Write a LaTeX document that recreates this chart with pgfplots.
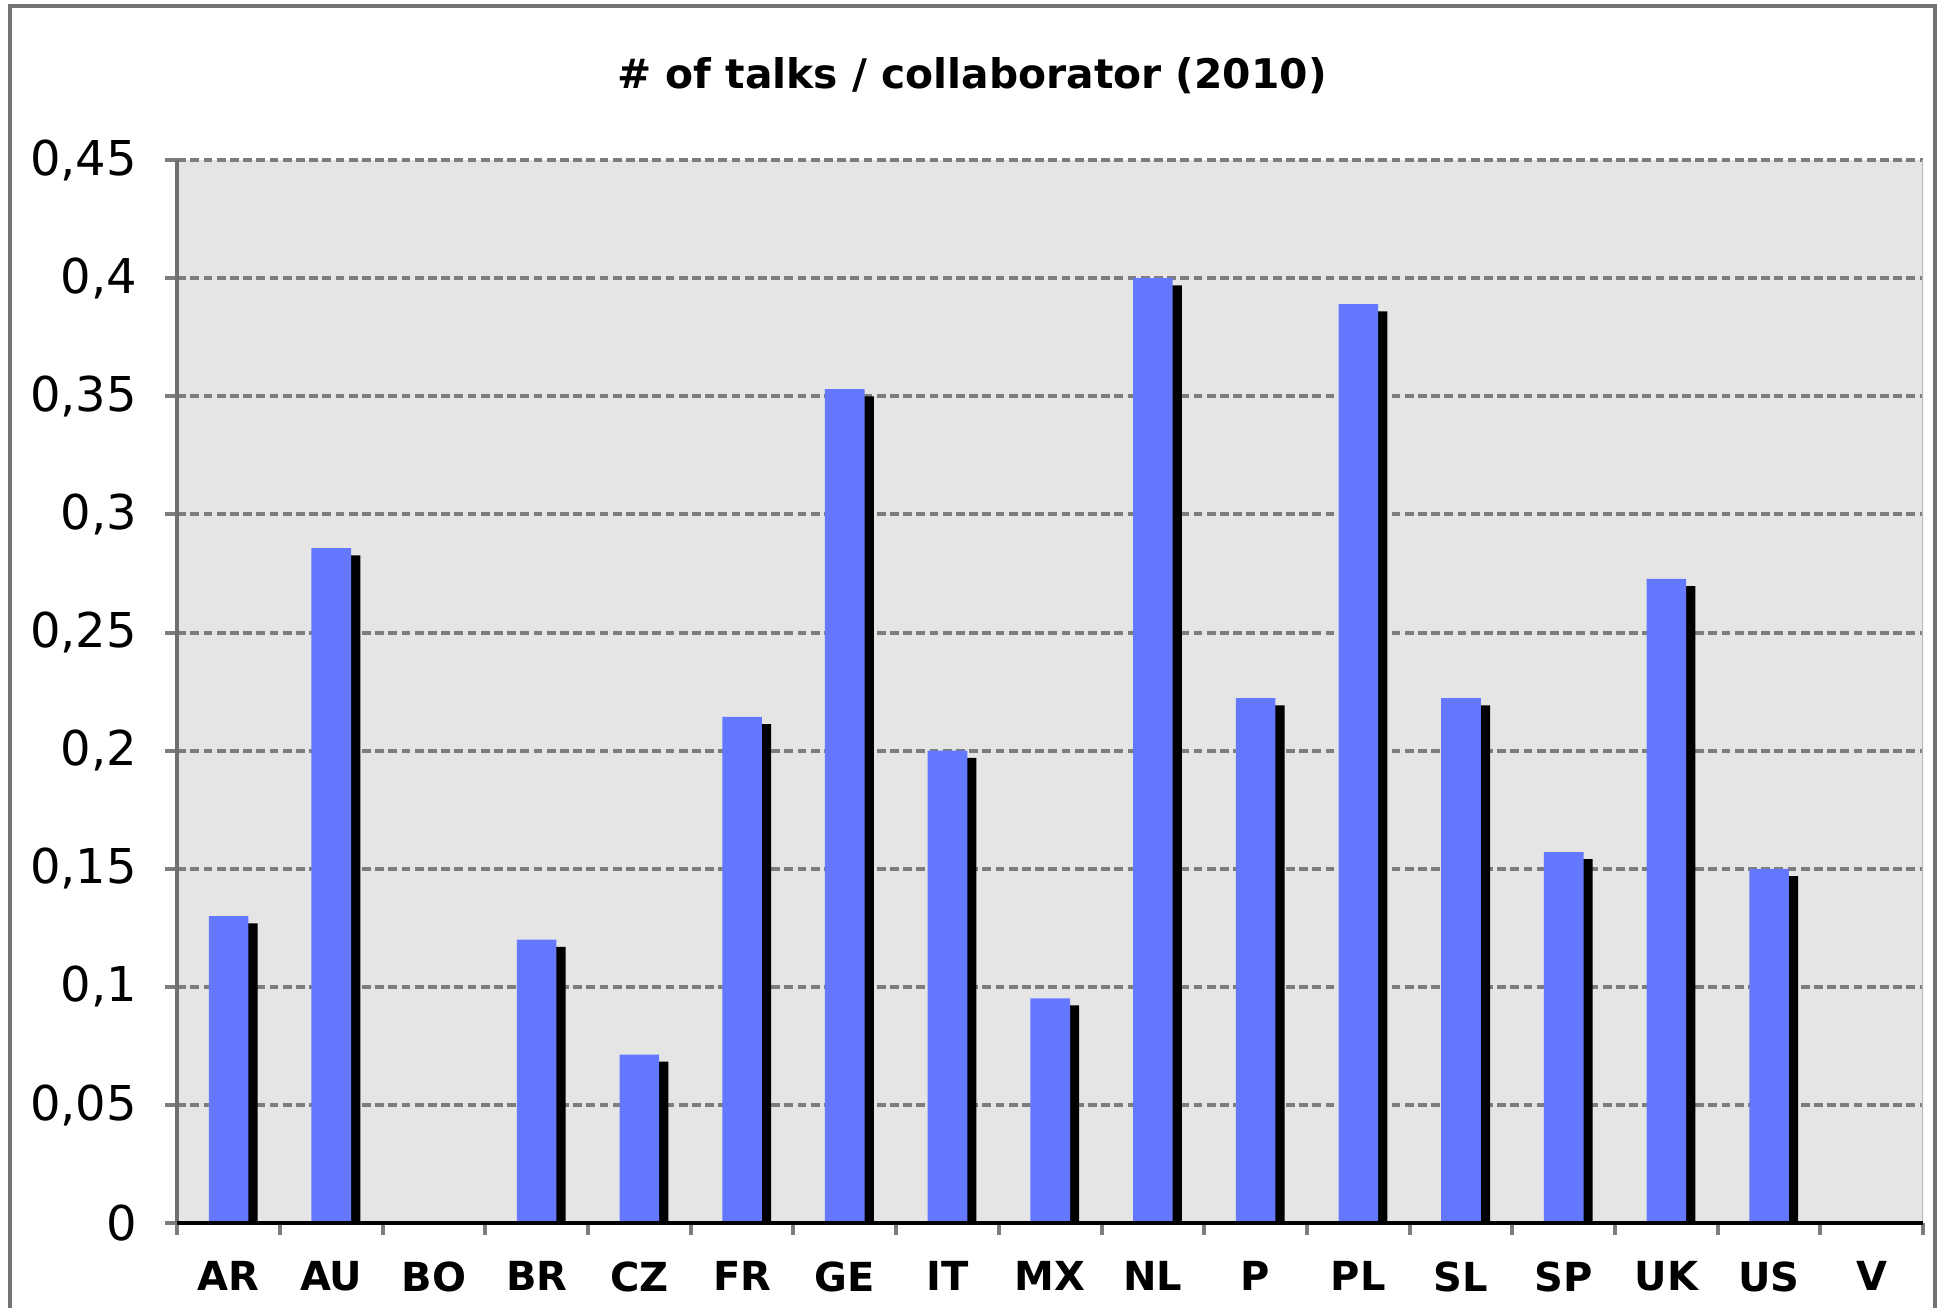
\documentclass[border=0pt]{standalone}
\usepackage{pgfplots}
\pgfplotsset{compat=1.18}
\usepackage{fontspec}
\setmainfont{DejaVu Sans}
\definecolor{barblue}{RGB}{99,120,255}
\definecolor{bg}{RGB}{229,229,229}
\definecolor{gridgray}{RGB}{125,125,125}
\begin{document}
\begin{tikzpicture}
\begin{axis}[
  at={(44.3pt,21.2pt)}, anchor=south west,
  scale only axis, width=436.5pt, height=265.8pt,
  xmin=0, xmax=17, ymin=0, ymax=0.45,
  axis background/.style={fill=bg},
  axis x line*=bottom, axis y line*=left,
  x axis line style={black, line width=0.9pt, -},
  y axis line style={gridgray!90!black, line width=1pt, -},
  xtick={0,...,17},
  x tick label as interval,
  xticklabels={AR,AU,BO,BR,CZ,FR,GE,IT,MX,NL,P,PL,SL,SP,UK,US,V},
  xticklabel style={font=\fontsize{10}{12}\selectfont\bfseries, yshift=-3pt},
  ytick={0,0.05,...,0.45},
  yticklabels={0,{0,05},{0,1},{0,15},{0,2},{0,25},{0,3},{0,35},{0,4},{0,45}},
  yticklabel style={font=\fontsize{12}{14}\selectfont, xshift=-3.5pt},
  tick align=outside,
  major tick length=3pt,
  tick style={gridgray, line width=1pt},
  ymajorgrids,
  grid style={gridgray, line width=1pt, dash pattern=on 2.2pt off 1.1pt},
  ybar, bar width=9.9pt,
  /pgf/number format/assume math mode=true,
  clip=true,
]
\addplot[fill=black, draw=none, bar shift=2.3pt, yshift=-1.8pt] coordinates {
(0.5,0.130) (1.5,0.2857) (2.5,0) (3.5,0.120) (4.5,0.0714) (5.5,0.2143)
(6.5,0.353) (7.5,0.200) (8.5,0.0952) (9.5,0.400) (10.5,0.2222) (11.5,0.389)
(12.5,0.2222) (13.5,0.1571) (14.5,0.2727) (15.5,0.150) (16.5,0)};
\addplot[fill=barblue, draw=none, bar shift=0pt] coordinates {
(0.5,0.130) (1.5,0.2857) (2.5,0) (3.5,0.120) (4.5,0.0714) (5.5,0.2143)
(6.5,0.353) (7.5,0.200) (8.5,0.0952) (9.5,0.400) (10.5,0.2222) (11.5,0.389)
(12.5,0.2222) (13.5,0.1571) (14.5,0.2727) (15.5,0.150) (16.5,0)};
\draw[gray!55, line width=0.8pt] (axis cs:17,0) -- (axis cs:17,0.45);
\draw[black, line width=0.9pt] (axis cs:0,0) -- (axis cs:17,0);
\end{axis}
\node[font=\fontsize{10.2}{12}\selectfont\bfseries] at (243pt,308pt) {\# of talks / collaborator (2010)};
\draw[gray!90!black, line width=1pt] (2.5pt,-5pt) -- (2.5pt,325.5pt) -- (483.8pt,325.5pt) -- (483.8pt,-5pt);
\pgfresetboundingbox
\useasboundingbox (0,0) rectangle (485.25pt,327pt);
\end{tikzpicture}
\end{document}
